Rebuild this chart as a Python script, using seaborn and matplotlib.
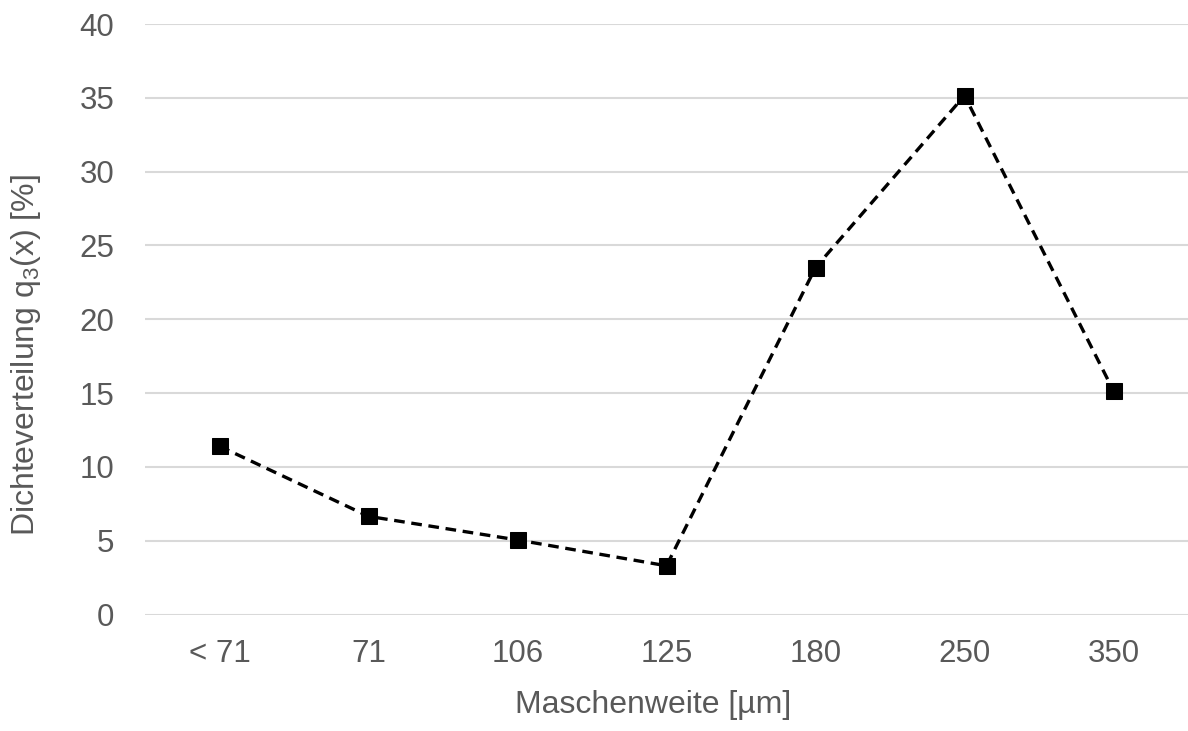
import matplotlib
matplotlib.use("Agg")
import matplotlib.pyplot as plt
import seaborn as sns
import pandas as pd

categories = ["< 71", "71", "106", "125", "180", "250", "350"]
values = [11.4, 6.65, 5.05, 3.3, 23.5, 35.15, 15.15]
y_ticks = [0, 5, 10, 15, 20, 25, 30, 35, 40]

sns.set_theme(style="white")
plt.rcParams['font.family'] = ['Liberation Sans', 'DejaVu Sans']
plt.rcParams['mathtext.fontset'] = 'custom'
plt.rcParams['mathtext.rm'] = 'Liberation Sans'
plt.rcParams['mathtext.it'] = 'Liberation Sans'

df = pd.DataFrame({"cat": categories, "val": values})

fig = plt.figure(figsize=(11.88, 7.31), dpi=100)
ax = fig.add_axes([145/1188, (731-614.5)/731, 1 - 145/1188, (614.5-24)/731])

sns.lineplot(data=df, x="cat", y="val", ax=ax, color="black", linewidth=2.4,
             linestyle=(0, (3.2, 2.0)), marker="s", markersize=12,
             markeredgecolor="black", markerfacecolor="black", sort=False, zorder=3)

ax.set_ylim(0, 40)
ax.set_xlim(-0.5, len(categories) - 0.5)
ax.set_yticks(y_ticks)
ax.yaxis.grid(True, color="#d9d9d9", linewidth=1.5)
ax.xaxis.grid(False)
for s in ax.spines.values():
    s.set_visible(False)
ax.tick_params(axis="both", length=0, labelsize=22.5, colors="#595959")
ax.tick_params(axis="x", pad=18)
ax.tick_params(axis="y", pad=22)
ax.set_xlabel("Maschenweite [µm]", fontsize=23, color="#595959")
ax.set_ylabel("Dichteverteilung q$_\\mathregular{3}$(x) [%]", fontsize=23, color="#595959")
ax.xaxis.set_label_coords((653 - 145) / 1043, (614.5 - 690) / 590.5)
ax.yaxis.set_label_coords((43 - 145) / 1043, (614.5 - 355) / 590.5)

fig.savefig("out.png", dpi=100)
